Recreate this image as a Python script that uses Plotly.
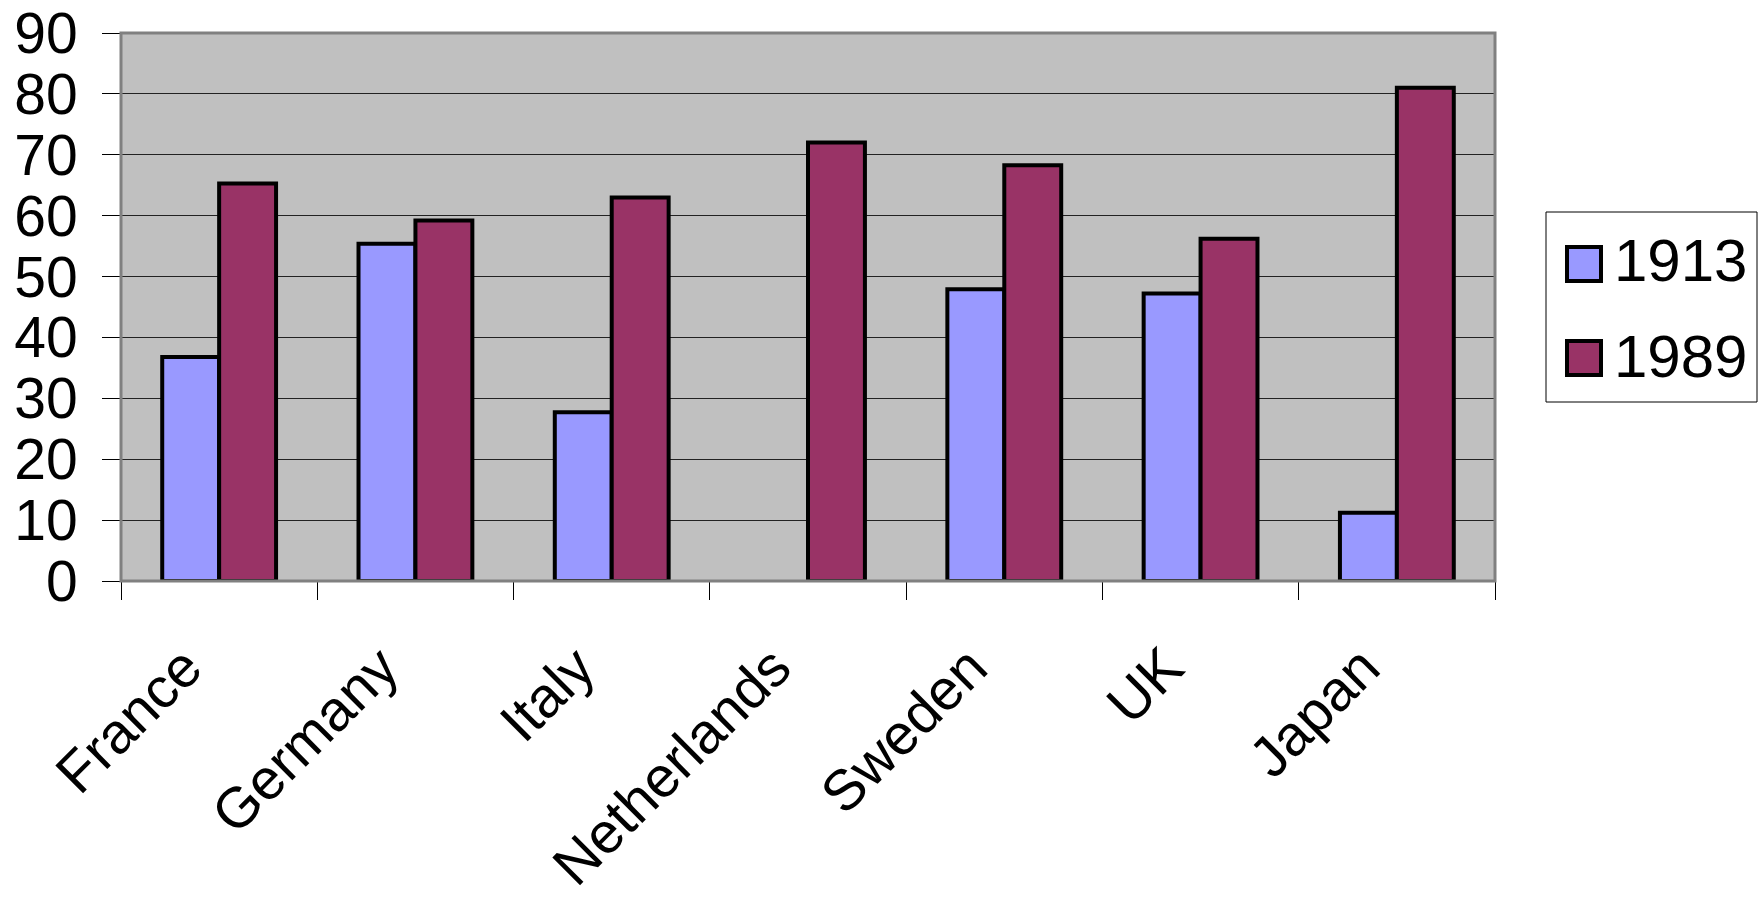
import plotly.graph_objects as go

# Categories and series values
countries = ["France", "Germany", "Italy", "Netherlands", "Sweden", "UK", "Japan"]
years = ["1913", "1989"]
values_1913 = [36.8, 55.4, 27.7, None, 47.9, 47.2, 11.2]
values_1989 = [65.3, 59.2, 63.0, 72.0, 68.3, 56.2, 81.0]
y_ticks = [0, 10, 20, 30, 40, 50, 60, 70, 80, 90]

colors = {"1913": "#9999FF", "1989": "#993366"}
FONT = "Arial, 'Liberation Sans', sans-serif"

W, H = 1759, 901
L, R, T, B = 121, 264, 33, 320
plot_w = W - L - R
plot_h = H - T - B


def px_x(px):
    return (px - L) / plot_w


def px_y(py):
    return (H - B - py) / plot_h


fig = go.Figure()
for yr, vals in zip(years, [values_1913, values_1989]):
    fig.add_trace(go.Bar(
        x=countries, y=vals, name=yr,
        marker=dict(color=colors[yr], line=dict(color="black", width=4)),
        showlegend=False,
    ))

# Plot-area frame
shapes = [dict(type="rect", xref="paper", yref="paper", x0=0, x1=1, y0=0, y1=1,
               line=dict(color="#808080", width=3), layer="above")]
annotations = []

# Legend box with large swatches
shapes.append(dict(type="rect", xref="paper", yref="paper",
                   x0=px_x(1546), x1=px_x(1757), y0=px_y(402), y1=px_y(212),
                   line=dict(color="black", width=1), fillcolor="white"))
for yr, (sq_top, text_mid) in zip(years, [(247, 260), (341, 356)]):
    shapes.append(dict(type="rect", xref="paper", yref="paper",
                       x0=px_x(1567), x1=px_x(1601),
                       y0=px_y(sq_top + 34), y1=px_y(sq_top),
                       line=dict(color="black", width=4), fillcolor=colors[yr]))
    annotations.append(dict(text=yr, xref="paper", yref="paper",
                            x=px_x(1612), y=px_y(text_mid),
                            xanchor="left", yanchor="middle", showarrow=False,
                            font=dict(family=FONT, size=60, color="black")))

fig.update_layout(
    width=W, height=H,
    margin=dict(l=L, r=R, t=T, b=B, pad=0, autoexpand=False),
    paper_bgcolor="white", plot_bgcolor="#C0C0C0",
    barmode="group", bargap=0.42, bargroupgap=0,
    font=dict(family=FONT, size=57, color="black"),
    shapes=shapes, annotations=annotations,
    showlegend=False,
)
fig.update_xaxes(
    type="category", tickangle=-45, tickson="boundaries",
    ticks="outside", ticklen=18, tickcolor="black", tickwidth=1,
    showline=True, linecolor="black", linewidth=1, automargin=False,
    showgrid=False, ticklabelstandoff=29, ticklabelshift=-34,
    tickfont=dict(family=FONT, size=57, color="black"),
)
fig.update_yaxes(
    range=[0, 90], tickvals=y_ticks, ticks="outside", ticklen=18,
    tickcolor="black", tickwidth=1, automargin=False,
    showline=True, linecolor="black", linewidth=1,
    showgrid=True, gridcolor="#222222", gridwidth=1, zeroline=False,
    ticklabelstandoff=13,
    tickfont=dict(family=FONT, size=57, color="black"),
)

fig.write_html("out.html")
